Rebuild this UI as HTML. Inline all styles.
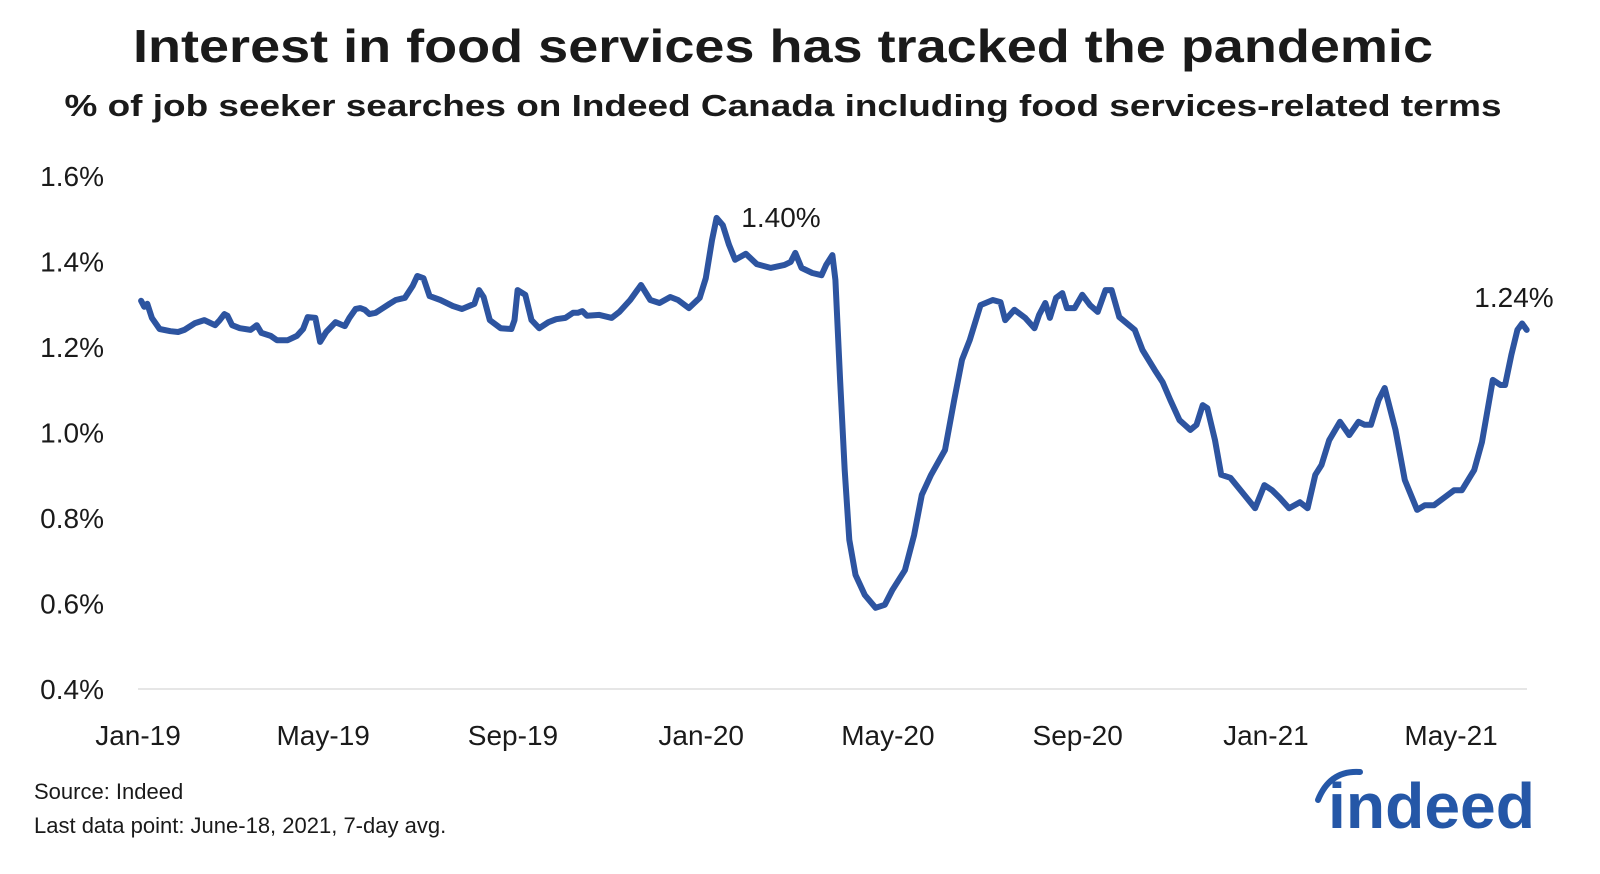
<!DOCTYPE html>
<html><head><meta charset="utf-8"><style>
body{margin:0;background:#fff;width:1600px;height:874px;overflow:hidden;font-family:"Liberation Sans",sans-serif;}
</style></head><body>
<svg width="1600" height="874" style="position:absolute;left:0;top:0">
<text x="783" y="62" text-anchor="middle" font-size="46" font-weight="bold" fill="#1a1a1a" textLength="1300" lengthAdjust="spacingAndGlyphs">Interest in food services has tracked the pandemic</text>
<text x="783" y="116" text-anchor="middle" font-size="31" font-weight="bold" fill="#1a1a1a" textLength="1437" lengthAdjust="spacingAndGlyphs">% of job seeker searches on Indeed Canada including food services-related terms</text>
<g id="yaxis"></g>
<g id="xaxis"></g>
<line x1="138" y1="689" x2="1527" y2="689" stroke="#ddd" stroke-width="1.5"/>
<path id="line" fill="none" stroke="#2d54a0" stroke-width="6" stroke-linejoin="round" stroke-linecap="round"/>
<text x="781" y="227" text-anchor="middle" font-size="28" fill="#1a1a1a">1.40%</text>
<text x="1514" y="307" text-anchor="middle" font-size="28" fill="#1a1a1a">1.24%</text>
<text x="34" y="799" font-size="22" fill="#1a1a1a">Source: Indeed</text>
<text x="34" y="833" font-size="22" fill="#1a1a1a">Last data point: June-18, 2021, 7-day avg.</text>
<g>
<path d="M1318,800 Q1330,770 1360,772" fill="none" stroke="#2557a7" stroke-width="6" stroke-linecap="round"/>
<text x="1328" y="828" font-size="64" font-weight="bold" fill="#2557a7" textLength="207" lengthAdjust="spacingAndGlyphs">indeed</text>
</g>
</svg>
<script>
const dayOffsets=[2,4,6,9,14,21,26,30,37,43,50,53,56,58,61,66,73,77,80,86,90,97,103,107,110,115,118,122,128,134,137,141,144,147,150,154,163,167,173,178,181,185,189,196,204,210,218,221,224,228,235,242,244,246,251,255,260,266,271,277,282,285,288,291,
299,307,312,319,326,332,338,345,350,357,364,368,372,375,379,383,387,394,401,410,419,423,426,430,437,443,446,450,452,455,458,461,465,471,478,484,489,497,503,508,514,523,529,534,539,546,554,559,562,568,575,581,584,588,591,595,599,602,607,
612,617,622,627,631,636,646,651,659,664,669,675,682,686,690,693,698,702,708,717,724,730,735,740,746,753,758,763,767,772,779,785,791,795,799,804,808,815,821,829,834,840,847,853,858,866,871,878,883,886,890,894,897,900];
const values=[1.308,1.294,1.301,1.268,1.242,1.237,1.235,1.240,1.256,1.263,1.251,1.263,1.277,1.273,1.251,1.244,1.240,1.251,1.233,1.226,1.216,1.216,1.226,1.242,1.270,1.268,1.212,1.235,1.258,1.249,1.268,1.289,1.291,1.287,1.277,1.280,1.301,1.310,1.315,1.343,1.366,1.361,1.319,1.310,1.296,1.289,1.301,1.333,1.317,1.263,1.244,1.242,1.263,1.333,1.322,1.263,1.244,1.258,1.265,1.268,1.280,1.280,1.284,1.273,
1.275,1.268,1.282,1.310,1.345,1.310,1.303,1.317,1.310,1.291,1.315,1.361,1.450,1.502,1.485,1.439,1.404,1.418,1.394,1.385,1.392,1.399,1.420,1.385,1.373,1.368,1.392,1.415,1.357,1.123,0.912,0.749,0.667,0.620,0.590,0.597,0.632,0.678,0.760,0.854,0.901,0.959,1.076,1.170,1.216,1.298,1.310,1.305,1.263,1.287,1.268,1.244,1.275,1.303,1.268,1.315,1.326,1.291,1.291,
1.322,1.298,1.282,1.333,1.333,1.270,1.240,1.193,1.146,1.118,1.076,1.029,1.006,1.018,1.064,1.057,0.982,0.901,0.894,0.854,0.823,0.877,0.865,0.847,0.823,0.837,0.823,0.901,0.924,0.982,1.025,0.994,1.025,1.018,1.018,1.076,1.104,1.006,0.889,0.819,0.830,0.830,0.849,0.865,0.865,0.912,0.978,1.123,1.111,1.111,1.181,1.240,1.255,1.240];
const yTicks=[0.4,0.6,0.8,1.0,1.2,1.4,1.6];
const xTickLabels=["Jan-19","May-19","Sep-19","Jan-20","May-20","Sep-20","Jan-21","May-21"];
const xTickDays=[0,120,243,365,486,609,731,851];

const NS="http://www.w3.org/2000/svg";
function xs(d){return 138+d*1.543;}
function ys(v){return 689-(v-0.4)/1.2*513;}
const ya=document.getElementById('yaxis');
yTicks.forEach(v=>{
  const t=document.createElementNS(NS,'text');
  
  
  t.setAttribute('x',104);t.setAttribute('y',ys(v)+10);
  t.setAttribute('text-anchor','end');t.setAttribute('font-size','28');t.setAttribute('fill','#1a1a1a');
  t.textContent=v.toFixed(1)+'%';ya.appendChild(t);
});
const xa=document.getElementById('xaxis');
xTickLabels.forEach((l,i)=>{
  const t=document.createElementNS(NS,'text');
  
  
  t.setAttribute('x',xs(xTickDays[i]));t.setAttribute('y',745);
  t.setAttribute('text-anchor','middle');t.setAttribute('font-size','28');t.setAttribute('fill','#1a1a1a');
  t.textContent=l;xa.appendChild(t);
});
let d='';
values.forEach((v,i)=>{d+=(i?'L':'M')+xs(dayOffsets[i]).toFixed(1)+','+ys(v).toFixed(1);});
document.getElementById('line').setAttribute('d',d);
</script>
</body></html>
